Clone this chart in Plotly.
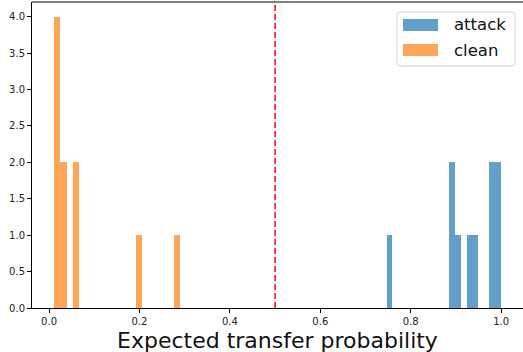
import numpy as np
import plotly.graph_objects as go

# Histogram data: 20 equal-width bins per group, between the group's min and max value
attack_range = (0.747, 0.999)
attack_counts = [1, 0, 0, 0, 0, 0, 0, 0, 0, 0, 0, 2, 1, 0, 1, 1, 0, 0, 2, 2]

clean_range = (0.011, 0.290)
clean_counts = [4, 2, 0, 2, 0, 0, 0, 0, 0, 0, 0, 0, 0, 1, 0, 0, 0, 0, 0, 1]

series_names = ["attack", "clean"]
series_colors = ["#1f77b4", "#ff7f0e"]

threshold = 0.5
x_label = "Expected transfer probability"
x_ticks = [0.0, 0.2, 0.4, 0.6, 0.8, 1.0]
y_ticks = [0.0, 0.5, 1.0, 1.5, 2.0, 2.5, 3.0, 3.5, 4.0]

W, H = 523, 352
ML, MR, MT, MB = 32, 0, 2, 44
PW, PH = W - ML - MR, H - MT - MB


def bins(rng, counts):
    edges = np.linspace(rng[0], rng[1], len(counts) + 1)
    return (edges[:-1] + edges[1:]) / 2, edges[1] - edges[0]


fig = go.Figure()
for name, rng, counts, color in zip(series_names, [attack_range, clean_range],
                                    [attack_counts, clean_counts], series_colors):
    centers, width = bins(rng, counts)
    fig.add_trace(go.Bar(x=centers, y=counts, width=width, name=name,
                         marker=dict(color=color, opacity=0.7, line=dict(width=0)),
                         showlegend=False))

# threshold line
fig.add_shape(type="line", x0=threshold, x1=threshold, xref="x", y0=0, y1=1, yref="paper",
              line=dict(color="red", width=1.5, dash="6px,3px"))

# top spine
fig.add_shape(type="line", x0=0, x1=1, xref="paper", y0=1, y1=1, yref="paper",
              line=dict(color="#808080", width=2))


def px(x):
    return (x - ML) / PW


def py(y):
    return (MT + PH - y) / PH


# legend frame with rounded corners
lx0, lx1, ly0, ly1, r = 397, 515, 12, 66, 3
path = (f"M {px(lx0 + r)},{py(ly0)} L {px(lx1 - r)},{py(ly0)} "
        f"Q {px(lx1)},{py(ly0)} {px(lx1)},{py(ly0 + r)} "
        f"L {px(lx1)},{py(ly1 - r)} Q {px(lx1)},{py(ly1)} {px(lx1 - r)},{py(ly1)} "
        f"L {px(lx0 + r)},{py(ly1)} Q {px(lx0)},{py(ly1)} {px(lx0)},{py(ly1 - r)} "
        f"L {px(lx0)},{py(ly0 + r)} Q {px(lx0)},{py(ly0)} {px(lx0 + r)},{py(ly0)} Z")
fig.add_shape(type="path", path=path, xref="paper", yref="paper",
              fillcolor="rgba(255,255,255,0.8)", line=dict(color="#d0d0d0", width=1))

for i, (name, color) in enumerate(zip(series_names, series_colors)):
    yc = 25 + i * 25
    fig.add_shape(type="rect", xref="paper", yref="paper",
                  x0=px(403), x1=px(438), y0=py(yc - 6), y1=py(yc + 6),
                  fillcolor=color, opacity=0.7, line=dict(width=0))
    fig.add_annotation(x=px(452), y=py(yc), xref="paper", yref="paper",
                       text=name, showarrow=False, xanchor="left", yanchor="middle",
                       font=dict(family="DejaVu Sans", size=16.5, color="#111"))

fig.add_annotation(x=0.5, y=py(326), xref="paper", yref="paper", text=x_label,
                   showarrow=False, xanchor="center", yanchor="top",
                   font=dict(family="DejaVu Sans", size=22, color="#111"))

fig.update_layout(
    width=W, height=H, margin=dict(l=ML, r=MR, t=MT, b=MB),
    plot_bgcolor="white", paper_bgcolor="white", barmode="overlay", bargap=0,
    font=dict(family="DejaVu Sans", size=10, color="#222"),
    xaxis=dict(range=[-0.0377, 1.0483], tickvals=x_ticks, tickformat=".1f",
               showgrid=False, zeroline=False, showline=True, linecolor="black",
               linewidth=1, ticks="outside", ticklen=4, tickwidth=1, tickcolor="black"),
    yaxis=dict(range=[0, 4.2], tickvals=y_ticks, tickformat=".1f",
               showgrid=False, zeroline=False, showline=True, linecolor="black",
               linewidth=1, ticks="outside", ticklen=4, tickwidth=1, tickcolor="black"),
)

fig.write_html("out.html")
